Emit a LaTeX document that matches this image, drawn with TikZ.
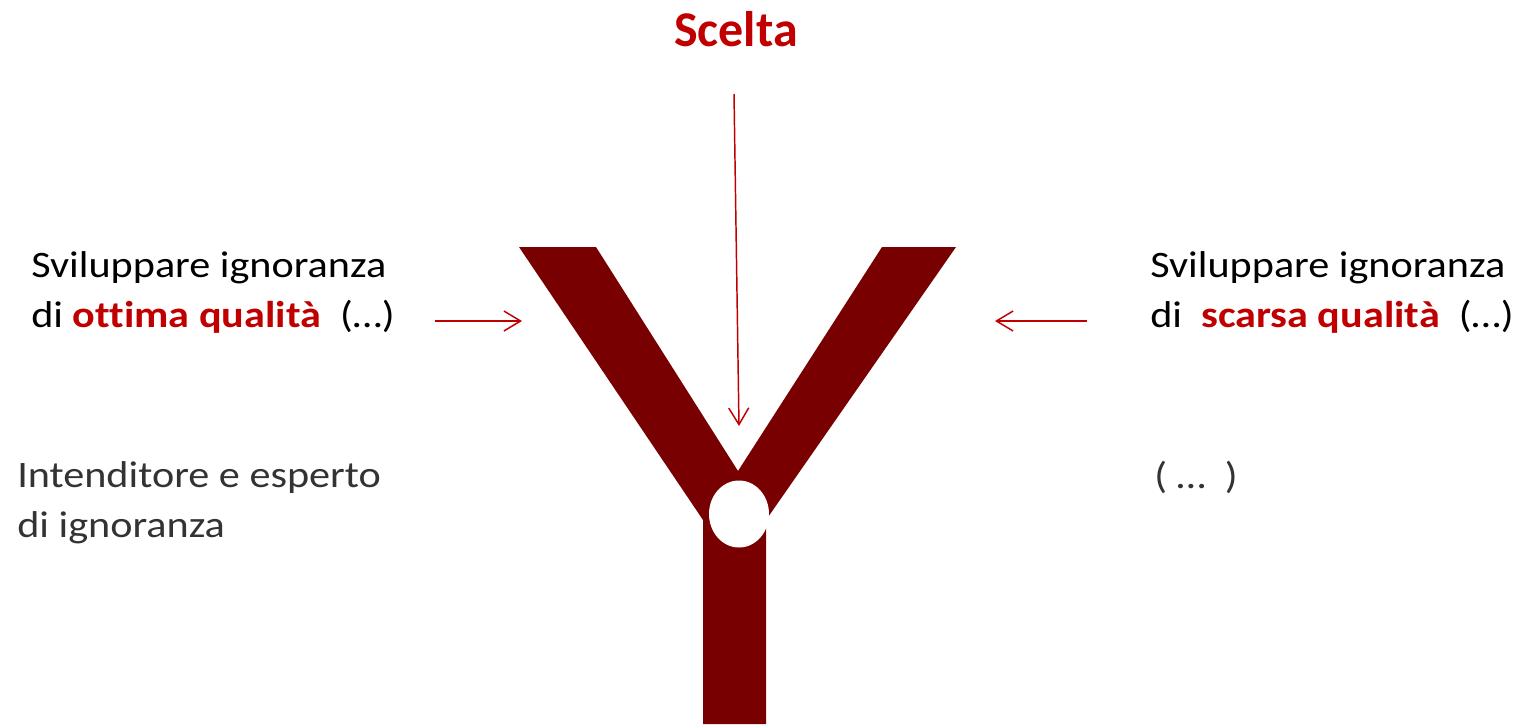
\documentclass[tikz,border=0pt]{standalone}
\usepackage{fontspec}
\setmainfont{Carlito}
\newfontfamily\bodyfont{Carlito}[FakeStretch=1.13, Ligatures=NoCommon]
\usepackage{xcolor}
\usepackage{tikz}
\usetikzlibrary{arrows.meta}

\definecolor{yred}{HTML}{780000}
\definecolor{hired}{HTML}{C00000}
\definecolor{softblack}{HTML}{333333}

\begin{document}
\begin{tikzpicture}[x=0.75pt, y=-0.75pt,
    txt/.style={anchor=base west, inner sep=0pt, align=left, font=\bodyfont\fontsize{28}{37.5}\selectfont},
    title/.style={anchor=base, inner sep=0pt, text=hired, font=\fontsize{37.5}{43}\selectfont\bfseries},
    arr/.style={draw=hired, line width=1.1pt, -{Straight Barb[length=12.5pt, width=15pt]}}
]
    \useasboundingbox (0,0) rectangle (1524,725);

    % the fork
    \fill [yred] (519,247) -- (596,247) -- (738,471) -- (882,247) -- (956,247)
        -- (766,520) -- (766,724) -- (703,724) -- (703,520) -- cycle;
    \fill [white] (739,514) ellipse [x radius=30, y radius=33.5];

    % texts (base = last line)
    \node [title] (scelta) at (736,46) {Scelta};
    \node [txt] (ottima) at (31,327) {Sviluppare ignoranza\\di \textcolor{hired}{\textbf{ottima qualità}}\ \ (…)};
    \node [txt] (scarsa) at (1150,327) {Sviluppare ignoranza\\di\ \ \textcolor{hired}{\textbf{scarsa qualità}}\ \ (…)};
    \node [txt, text=softblack] (esperto) at (17,537) {Intenditore e esperto\\di ignoranza};
    \node [txt, text=softblack] (dots) at (1154,488) {(\ …\ \ )};

    \coordinate (sceltaTail) at (734,94);
    \coordinate (forkTop) at (739,426);
    \coordinate (leftTail) at (435,321);
    \coordinate (leftHead) at (522,321);
    \coordinate (rightTail) at (1087,321);
    \coordinate (rightHead) at (995,321);

    \draw [arr] (sceltaTail) -- (forkTop);
    \draw [arr] (leftTail) -- (leftHead);
    \draw [arr] (rightTail) -- (rightHead);
\end{tikzpicture}
\end{document}
